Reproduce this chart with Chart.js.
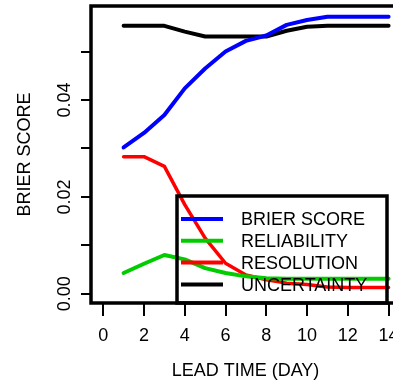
<!DOCTYPE html>
<html>
<head>
<meta charset="utf-8">
<script src="https://cdn.jsdelivr.net/npm/chart.js@4.4.0/dist/chart.umd.min.js"></script>
<style>
  html, body { margin: 0; padding: 0; background: #ffffff; overflow: hidden; width: 393px; height: 382px; }
  canvas { display: block; }
</style>
</head>
<body>
<canvas id="c" width="400" height="382"></canvas>
<script>
// ---- data ----
const leadDays = [1, 2, 3, 4, 5, 6, 7, 8, 9, 10, 11, 12, 13, 14];
const brierScore  = [0.0302, 0.0332, 0.0369, 0.0424, 0.0465, 0.0500, 0.0522, 0.0533, 0.0555, 0.0565, 0.0572, 0.0572, 0.0572, 0.0572];
const reliability = [0.0043, 0.0062, 0.0080, 0.0071, 0.0053, 0.0043, 0.0036, 0.0032, 0.0031, 0.0031, 0.0031, 0.0031, 0.0031, 0.0031];
const resolution  = [0.0283, 0.0283, 0.0263, 0.0184, 0.0115, 0.0063, 0.0039, 0.0029, 0.0022, 0.0019, 0.0014, 0.0013, 0.0013, 0.0013];
const uncertainty = [0.0553, 0.0553, 0.0553, 0.0541, 0.0531, 0.0531, 0.0531, 0.0531, 0.0543, 0.0551, 0.0553, 0.0553, 0.0553, 0.0553];

const seriesNames = ['BRIER SCORE', 'RELIABILITY', 'RESOLUTION', 'UNCERTAINTY'];
const xTicks = [0, 2, 4, 6, 8, 10, 12, 14];
const yTicks = [0, 0.01, 0.02, 0.03, 0.04, 0.05];
const yLabelTicks = [0, 0.02, 0.04];
const yLabelText = ['0.00', '0.02', '0.04'];
const xTitle = 'LEAD TIME (DAY)';
const yTitle = 'BRIER SCORE';

const FONT = '"Liberation Sans", Arial, Helvetica, sans-serif';
const colors = ['#0000FF', '#00CC00', '#FF0000', '#000000'];
const widths = [4, 4, 3.5, 4];
const seriesValues = [brierScore, reliability, resolution, uncertainty];

const datasets = seriesNames.map((name, i) => ({
  label: name,
  data: leadDays.map((d, k) => ({ x: d, y: seriesValues[i][k] })),
  borderColor: colors[i],
  backgroundColor: colors[i],
  borderWidth: widths[i],
  pointRadius: 0,
  tension: 0,
  fill: false,
  borderJoinStyle: 'round',
  borderCapStyle: 'round'
}));

// frame, rotated y labels and legend
const decorations = {
  id: 'decorations',
  afterDatasetsDraw(chart) {
    const ctx = chart.ctx;
    const ca = chart.chartArea;
    // legend box
    const bl = ca.left + 86, br = ca.right - 13, bt = ca.bottom - 107, bb = ca.bottom;
    ctx.save();
    ctx.strokeStyle = '#000';
    ctx.lineWidth = 3.5;
    ctx.strokeRect(bl, bt, br - bl, bb - bt);
    ctx.font = '18px ' + FONT;
    ctx.textAlign = 'left';
    ctx.textBaseline = 'alphabetic';
    ctx.fillStyle = '#000';
    seriesNames.forEach((name, i) => {
      const yy = bt + 23 + i * 21.8;
      ctx.beginPath();
      ctx.strokeStyle = colors[i];
      ctx.lineWidth = 4;
      ctx.lineCap = 'butt';
      ctx.moveTo(bl + 4, yy);
      ctx.lineTo(bl + 46, yy);
      ctx.stroke();
      ctx.fillText(name, bl + 64, yy + 6.4);
    });
    ctx.restore();
  },
  afterDraw(chart) {
    const ctx = chart.ctx;
    const ca = chart.chartArea;
    ctx.save();
    ctx.strokeStyle = '#000';
    ctx.lineWidth = 3.5;
    ctx.strokeRect(ca.left, ca.top, ca.right - ca.left, ca.bottom - ca.top);
    // y tick labels, parallel to the axis
    const ys = chart.scales.y;
    ctx.font = '18px ' + FONT;
    ctx.fillStyle = '#000';
    ctx.textAlign = 'center';
    ctx.textBaseline = 'alphabetic';
    yLabelTicks.forEach((v, i) => {
      const py = ys.getPixelForValue(v);
      ctx.save();
      ctx.translate(70, py);
      ctx.rotate(-Math.PI / 2);
      ctx.fillText(yLabelText[i], 0, 0);
      ctx.restore();
    });
    ctx.restore();
  }
};

new Chart(document.getElementById('c'), {
  type: 'line',
  data: { datasets },
  options: {
    responsive: false,
    animation: false,
    devicePixelRatio: 1,
    layout: { padding: { top: 6, left: 0, right: 0, bottom: 0 } },
    plugins: { legend: { display: false }, tooltip: { enabled: false } },
    scales: {
      x: {
        type: 'linear',
        min: -0.6,
        max: 14.56,
        afterBuildTicks: (s) => { s.ticks = xTicks.map(v => ({ value: v })); },
        afterFit: (s) => { s.height = 79; s.paddingLeft = 0; s.paddingRight = 0; },
        ticks: { color: '#000', font: { family: FONT, size: 18 }, padding: 9, maxRotation: 0, minRotation: 0, autoSkip: false },
        grid: { drawOnChartArea: false, drawTicks: true, tickLength: 13, color: '#000', lineWidth: 2 },
        border: { display: false },
        title: { display: true, text: xTitle, color: '#000', font: { family: FONT, size: 18 }, padding: { top: 0, bottom: 0 } }
      },
      y: {
        type: 'linear',
        min: -0.0019,
        max: 0.0594,
        afterBuildTicks: (s) => { s.ticks = yTicks.map(v => ({ value: v })); },
        afterFit: (s) => { s.width = 91; s.paddingTop = 0; s.paddingBottom = 0; },
        ticks: { color: 'rgba(0,0,0,0)', font: { family: FONT, size: 18 }, autoSkip: false,
                 callback: (v) => '' },
        grid: { drawOnChartArea: false, drawTicks: true, tickLength: 10, color: '#000', lineWidth: 2 },
        border: { display: false },
        title: { display: true, text: yTitle, color: '#000', font: { family: FONT, size: 18 }, padding: { top: 14, bottom: 14 } }
      }
    }
  },
  plugins: [decorations]
});
</script>
</body>
</html>
